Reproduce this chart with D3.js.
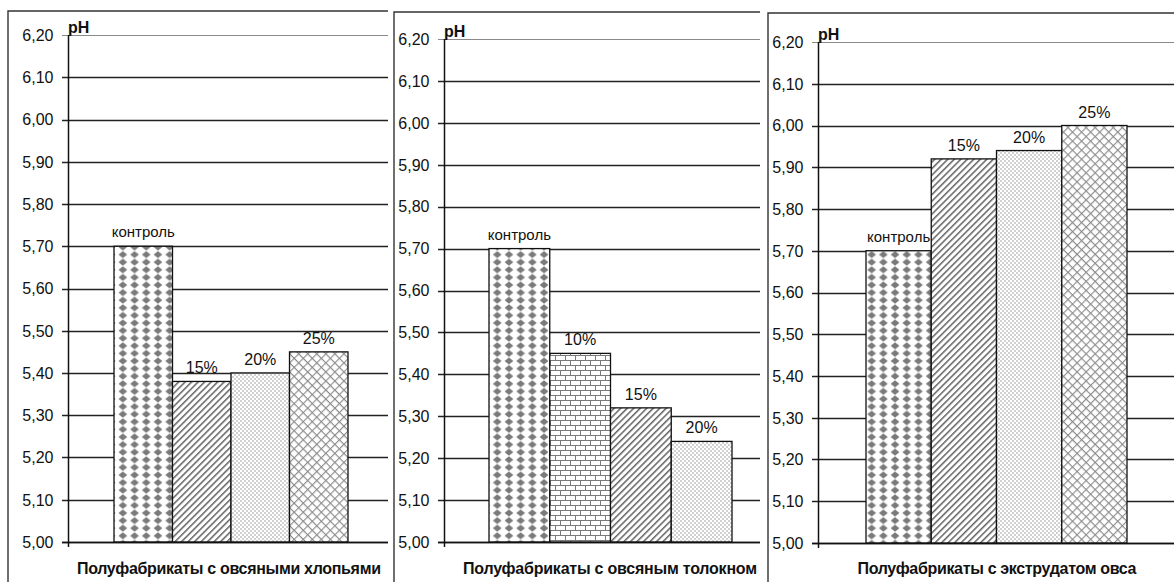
<!DOCTYPE html>
<html>
<head>
<meta charset="utf-8">
<script src="https://cdn.jsdelivr.net/npm/d3@7"></script>
<style>
  html, body { margin: 0; padding: 0; background: #fff; }
  svg { display: block; }
</style>
</head>
<body>
<svg id="chart" width="1174" height="582"></svg>
<script>
// pH of semi-finished products with oat additives
const panelTitles = [
  "Полуфабрикаты с овсяными хлопьями",
  "Полуфабрикаты с овсяным толокном",
  "Полуфабрикаты с экструдатом овса"
];
const flakesLabels = ["контроль", "15%", "20%", "25%"];
const flakesValues = [5.70, 5.38, 5.40, 5.45];
const oatmealLabels = ["контроль", "10%", "15%", "20%"];
const oatmealValues = [5.70, 5.45, 5.32, 5.24];
const extrudateLabels = ["контроль", "15%", "20%", "25%"];
const extrudateValues = [5.70, 5.92, 5.94, 6.00];
const yTicks = [5.0, 5.1, 5.2, 5.3, 5.4, 5.5, 5.6, 5.7, 5.8, 5.9, 6.0, 6.1, 6.2];
const yLabel = "pH";

const svg = d3.select("#chart");
const defs = svg.append("defs");

// ---- fill patterns ----
// diamonds (control)
const pDiamond = defs.append("pattern").attr("id", "p-diamond")
  .attr("patternUnits", "userSpaceOnUse").attr("width", 11.7).attr("height", 7.6);
pDiamond.append("rect").attr("width", 11.7).attr("height", 7.6).attr("fill", "#fff");
pDiamond.append("path").attr("d", "M5.85,0.3 L10.2,3.8 L5.85,7.3 L1.5,3.8 Z").attr("fill", "#7a7a7a");

// diagonal stripes
const pStripe = defs.append("pattern").attr("id", "p-stripe")
  .attr("patternUnits", "userSpaceOnUse").attr("width", 4.6).attr("height", 10)
  .attr("patternTransform", "rotate(45)");
pStripe.append("rect").attr("width", 4.6).attr("height", 10).attr("fill", "#fff");
pStripe.append("rect").attr("width", 1.5).attr("height", 10).attr("fill", "#626262");

// fine dots
const pDots = defs.append("pattern").attr("id", "p-dots")
  .attr("patternUnits", "userSpaceOnUse").attr("width", 4).attr("height", 4);
pDots.append("rect").attr("width", 4).attr("height", 4).attr("fill", "#fff");
pDots.append("circle").attr("cx", 1).attr("cy", 1).attr("r", 0.75).attr("fill", "#8c8c8c");
pDots.append("circle").attr("cx", 3).attr("cy", 3).attr("r", 0.75).attr("fill", "#8c8c8c");

// diagonal cross-hatch
const pCross = defs.append("pattern").attr("id", "p-cross")
  .attr("patternUnits", "userSpaceOnUse").attr("width", 6.4).attr("height", 6.4)
  .attr("patternTransform", "rotate(45)");
pCross.append("rect").attr("width", 6.4).attr("height", 6.4).attr("fill", "#fff");
pCross.append("path").attr("d", "M0,0.6 H6.4 M0.6,0 V6.4").attr("stroke", "#8a8a8a").attr("stroke-width", 1.1);

// bricks
const pBrick = defs.append("pattern").attr("id", "p-brick")
  .attr("patternUnits", "userSpaceOnUse").attr("width", 10).attr("height", 10);
pBrick.append("rect").attr("width", 10).attr("height", 10).attr("fill", "#fff");
pBrick.append("path")
  .attr("d", "M0,0.5 H10 M0,5.5 H10 M0.5,0.5 V5.5 M5.5,5.5 V10.5")
  .attr("stroke", "#7a7a7a").attr("stroke-width", 1);

const fillByLabel = {
  "контроль": "url(#p-diamond)",
  "10%": "url(#p-brick)",
  "15%": "url(#p-stripe)",
  "20%": "url(#p-dots)",
  "25%": "url(#p-cross)"
};

// ---- panel geometry ----
const panels = [
  { title: panelTitles[0], labels: flakesLabels, values: flakesValues,
    boxX: 8, boxY: 11, boxRight: 388, axisX: 68, plotRight: 388, yTop: 35, yBottom: 542,
    barStart: 114, barEnd: 348, titleX: 229, titleWidth: 304 },
  { title: panelTitles[1], labels: oatmealLabels, values: oatmealValues,
    boxX: 394, boxY: 12, boxRight: 760, axisX: 444, plotRight: 760, yTop: 39, yBottom: 542,
    barStart: 489, barEnd: 732, titleX: 610, titleWidth: 294 },
  { title: panelTitles[2], labels: extrudateLabels, values: extrudateValues,
    boxX: 768, boxY: 13, boxRight: 1180, axisX: 818, plotRight: 1180, yTop: 42, yBottom: 543,
    barStart: 866, barEnd: 1127, titleX: 997, titleWidth: 279 }
];

const fmt = v => d3.format(".2f")(v).replace(".", ",");
const font = "Liberation Sans, Arial, sans-serif";

panels.forEach(p => {
  const g = svg.append("g");

  // frame
  g.append("path")
    .attr("d", `M${p.boxX},600 V${p.boxY} H${p.boxRight}`)
    .attr("fill", "none").attr("stroke", "#333").attr("stroke-width", 1.4);

  const y = d3.scaleLinear().domain([5.0, 6.2]).range([p.yBottom, p.yTop]);
  const x = d3.scaleBand().domain(p.labels).range([p.barStart, p.barEnd]).padding(0);

  // gridlines + tick marks
  g.selectAll("line.grid").data(yTicks).join("line")
    .attr("class", "grid")
    .attr("x1", p.axisX - 6).attr("x2", p.plotRight)
    .attr("y1", d => Math.round(y(d)) + 0.5).attr("y2", d => Math.round(y(d)) + 0.5)
    .attr("stroke", d => d === 6.2 ? "#8a8a8a" : "#222")
    .attr("stroke-width", d => d === 6.2 ? 1.1 : 1.4);

  // tick labels
  g.selectAll("text.tick").data(yTicks).join("text")
    .attr("class", "tick")
    .attr("x", p.axisX - 14.5).attr("y", d => y(d))
    .attr("dy", "0.36em")
    .attr("text-anchor", "end")
    .attr("font-family", font)
    .attr("font-size", 16).attr("fill", "#111")
    .text(fmt);

  // bars
  g.selectAll("rect.bar").data(p.values).join("rect")
    .attr("class", "bar")
    .attr("x", (d, i) => x(p.labels[i]))
    .attr("width", x.bandwidth())
    .attr("y", d => y(d))
    .attr("height", d => y(5.0) - y(d))
    .attr("fill", (d, i) => fillByLabel[p.labels[i]])
    .attr("stroke", "#111").attr("stroke-width", 1.3);

  // value axis
  g.append("line")
    .attr("x1", p.axisX + 0.5).attr("x2", p.axisX + 0.5)
    .attr("y1", y(6.2)).attr("y2", y(5.0) + 5)
    .attr("stroke", "#111").attr("stroke-width", 1.5);
  g.append("line")
    .attr("x1", p.axisX - 6).attr("x2", p.plotRight)
    .attr("y1", Math.round(y(5.0)) + 0.5).attr("y2", Math.round(y(5.0)) + 0.5)
    .attr("stroke", "#111").attr("stroke-width", 1.5);

  // bar labels
  g.selectAll("text.val").data(p.values).join("text")
    .attr("class", "val")
    .attr("x", (d, i) => x(p.labels[i]) + x.bandwidth() / 2)
    .attr("y", (d, i) => y(d) - (p.labels[i] === "контроль" ? 9 : 8))
    .attr("text-anchor", "middle")
    .attr("font-family", font)
    .attr("font-size", (d, i) => p.labels[i] === "контроль" ? 15 : 16)
    .attr("fill", "#111")
    .text((d, i) => p.labels[i]);

  // axis caption
  g.append("text")
    .attr("x", p.axisX).attr("y", p.yTop - 2)
    .attr("font-family", font)
    .attr("font-weight", "bold").attr("font-size", 16).attr("fill", "#111")
    .text(yLabel);

  // category caption
  g.append("text")
    .attr("x", p.titleX - p.titleWidth / 2).attr("y", 574)
    .attr("font-family", font)
    .attr("font-weight", "bold").attr("font-size", 16).attr("fill", "#111")
    .attr("textLength", p.titleWidth).attr("lengthAdjust", "spacing")
    .text(p.title);
});
</script>
</body>
</html>
